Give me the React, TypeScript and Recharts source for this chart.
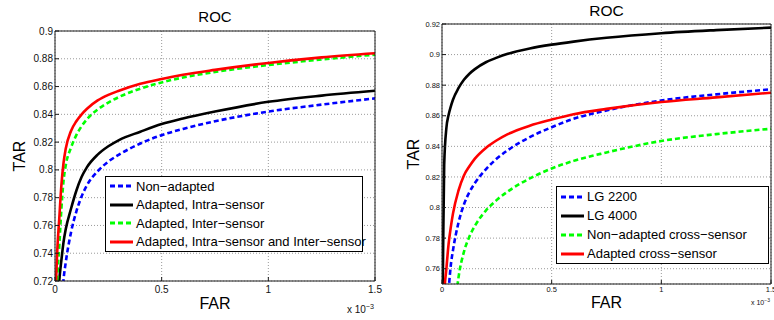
import { LineChart, Line, XAxis, YAxis, CartesianGrid, Legend, Label } from "recharts";

const FONT = '"Liberation Sans", Arial, Helvetica, sans-serif';

// FAR sample points (x 10^-3), shared by both panels
const far = [0, 0.005, 0.01, 0.02, 0.03, 0.04, 0.05, 0.075, 0.1, 0.125, 0.15, 0.2, 0.25, 0.3, 0.4, 0.5, 0.6, 0.75, 1.0, 1.25, 1.5];

// left panel: TAR values
const nonAdapted = [0.62, 0.64, 0.66, 0.68, 0.7, 0.721, 0.733, 0.755, 0.77, 0.781, 0.789, 0.799, 0.806, 0.811, 0.819, 0.825, 0.8295, 0.835, 0.842, 0.847, 0.8515];
const adaptedIntra = [0.66, 0.67, 0.69, 0.72, 0.735, 0.748, 0.757, 0.772, 0.785, 0.795, 0.802, 0.811, 0.817, 0.8215, 0.8275, 0.833, 0.837, 0.842, 0.849, 0.8535, 0.857];
const adaptedInter = [0.68, 0.7, 0.72, 0.745, 0.772, 0.792, 0.803, 0.816, 0.825, 0.8315, 0.8365, 0.8435, 0.8485, 0.8525, 0.8585, 0.863, 0.8665, 0.8705, 0.8755, 0.8795, 0.883];
const adaptedBoth = [0.7, 0.72, 0.74, 0.765, 0.789, 0.805, 0.815, 0.828, 0.835, 0.84, 0.844, 0.85, 0.854, 0.857, 0.862, 0.8655, 0.8685, 0.872, 0.877, 0.881, 0.884];

// right panel: TAR values
const lg2200 = [0.62, 0.66, 0.69, 0.72, 0.745, 0.762, 0.772, 0.79, 0.802, 0.81, 0.816, 0.825, 0.832, 0.8375, 0.846, 0.8525, 0.858, 0.8635, 0.87, 0.874, 0.8773];
const lg4000 = [0.7, 0.77, 0.828, 0.852, 0.8605, 0.866, 0.8705, 0.878, 0.8835, 0.8875, 0.8905, 0.895, 0.898, 0.9005, 0.904, 0.9065, 0.9085, 0.911, 0.914, 0.916, 0.9176];
const nonAdaptedCross = [0.55, 0.57, 0.59, 0.63, 0.67, 0.7, 0.72, 0.754, 0.771, 0.781, 0.788, 0.798, 0.805, 0.8105, 0.819, 0.8255, 0.8305, 0.836, 0.8435, 0.848, 0.8515];
const adaptedCross = [0.68, 0.71, 0.742, 0.76, 0.776, 0.787, 0.796, 0.811, 0.821, 0.827, 0.832, 0.839, 0.844, 0.848, 0.8535, 0.8575, 0.861, 0.8645, 0.869, 0.872, 0.8751];

const xTicks = [0, 0.5, 1, 1.5];
const leftYTicks = [0.72, 0.74, 0.76, 0.78, 0.8, 0.82, 0.84, 0.86, 0.88, 0.9];
const rightYTicks = [0.76, 0.78, 0.8, 0.82, 0.84, 0.86, 0.88, 0.9, 0.92];

type Series = { key: string; name: string; color: string; dashed: boolean };

const leftSeries: Series[] = [
  { key: "nonAdapted", name: "Non−adapted", color: "#0000ff", dashed: true },
  { key: "adaptedIntra", name: "Adapted, Intra−sensor", color: "#000000", dashed: false },
  { key: "adaptedInter", name: "Adapted, Inter−sensor", color: "#00ff00", dashed: true },
  { key: "adaptedBoth", name: "Adapted, Intra−sensor and Inter−sensor", color: "#ff0000", dashed: false },
];

const rightSeries: Series[] = [
  { key: "lg2200", name: "LG 2200", color: "#0000ff", dashed: true },
  { key: "lg4000", name: "LG 4000", color: "#000000", dashed: false },
  { key: "nonAdaptedCross", name: "Non−adapted cross−sensor", color: "#00ff00", dashed: true },
  { key: "adaptedCross", name: "Adapted cross−sensor", color: "#ff0000", dashed: false },
];

const leftData = far.map((f, i) => ({
  far: f,
  nonAdapted: nonAdapted[i],
  adaptedIntra: adaptedIntra[i],
  adaptedInter: adaptedInter[i],
  adaptedBoth: adaptedBoth[i],
}));

const rightData = far.map((f, i) => ({
  far: f,
  lg2200: lg2200[i],
  lg4000: lg4000[i],
  nonAdaptedCross: nonAdaptedCross[i],
  adaptedCross: adaptedCross[i],
}));

const fmtY = (v: number) => String(Number(v.toFixed(2)));

function LegendBox({ series, fontSize, rowHeight, width }: { series: Series[]; fontSize: number; rowHeight: number; width: number }) {
  return (
    <div
      style={{
        boxSizing: "border-box",
        width,
        border: "1px solid #000",
        background: "#fff",
        padding: "0 4px",
        fontFamily: FONT,
        fontSize,
        color: "#000",
      }}
    >
      {series.map((s) => (
        <div key={s.key} style={{ display: "flex", alignItems: "center", height: rowHeight, whiteSpace: "nowrap" }}>
          <svg width={24} height={6} style={{ marginRight: 2, flex: "none" }}>
            <line x1={0} x2={23} y1={3} y2={3} stroke={s.color} strokeWidth={3} strokeDasharray={s.dashed ? "5 3" : undefined} />
          </svg>
          <span>{s.name}</span>
        </div>
      ))}
    </div>
  );
}

type PanelProps = {
  data: any[];
  series: Series[];
  width: number;
  yDomain: [number, number];
  yTicks: number[];
  yAxisWidth: number;
  xAxisHeight: number;
  margin: { top: number; right: number; left: number; bottom: number };
  tickFont: number;
  xTickMargin: number;
  yTickMargin: number;
  titleSize: number;
  titleGap: number;
  farBaseline: number;
  tarBaseline: number;
  scaleSize: number;
  scaleBaseline: number;
  legend: { left: number; top: number; width: number; fontSize: number; rowHeight: number };
};

function RocPanel(p: PanelProps) {
  const axisColor = "#1a1a1a";
  return (
    <LineChart width={p.width} height={320} data={p.data} margin={p.margin}>
      <CartesianGrid stroke="#9a9a9a" strokeDasharray="1 2" />
      <XAxis
        dataKey="far"
        type="number"
        domain={[0, 1.5]}
        ticks={xTicks}
        interval={0}
        allowDataOverflow
        height={p.xAxisHeight}
        tickSize={-4}
        tickMargin={p.xTickMargin}
        stroke={axisColor}
        tick={{ fill: "#111", fontSize: p.tickFont, fontFamily: FONT }}
      >
        <Label
          content={({ viewBox }: any) => (
            <g>
              <text
                x={viewBox.x + viewBox.width / 2}
                y={p.farBaseline}
                textAnchor="middle"
                fontSize={16}
                fontFamily={FONT}
                fill="#000"
              >
                FAR
              </text>
              <text
                x={viewBox.x + viewBox.width - 1}
                y={p.scaleBaseline}
                textAnchor="end"
                fontSize={p.scaleSize}
                fontFamily={FONT}
                fill="#111"
              >
                x 10
                <tspan dy={-p.scaleSize * 0.45} fontSize={p.scaleSize * 0.72}>
                  −3
                </tspan>
              </text>
            </g>
          )}
        />
      </XAxis>
      <XAxis
        xAxisId="top"
        orientation="top"
        dataKey="far"
        type="number"
        domain={[0, 1.5]}
        ticks={xTicks}
        interval={0}
        allowDataOverflow
        height={1}
        tickSize={-4}
        tick={false}
        stroke={axisColor}
      >
        <Label
          content={({ viewBox }: any) => (
            <text
              x={viewBox.x + viewBox.width / 2}
              y={viewBox.y - p.titleGap}
              textAnchor="middle"
              fontSize={p.titleSize}
              fontFamily={FONT}
              fill="#000"
            >
              ROC
            </text>
          )}
        />
      </XAxis>
      <YAxis
        type="number"
        domain={p.yDomain}
        ticks={p.yTicks}
        interval={0}
        allowDataOverflow
        width={p.yAxisWidth}
        tickSize={-4}
        tickMargin={p.yTickMargin}
        tickFormatter={fmtY}
        stroke={axisColor}
        tick={{ fill: "#111", fontSize: p.tickFont, fontFamily: FONT }}
      >
        <Label
          content={({ viewBox }: any) => {
            const cy = viewBox.y + viewBox.height / 2;
            return (
              <text
                x={p.tarBaseline}
                y={cy}
                transform={`rotate(-90, ${p.tarBaseline}, ${cy})`}
                textAnchor="middle"
                fontSize={16}
                fontFamily={FONT}
                fill="#000"
              >
                TAR
              </text>
            );
          }}
        />
      </YAxis>
      <YAxis
        yAxisId="r"
        orientation="right"
        type="number"
        domain={p.yDomain}
        ticks={p.yTicks}
        interval={0}
        allowDataOverflow
        width={1}
        tickSize={-4}
        tick={false}
        stroke={axisColor}
      />
      {p.series.map((s) => (
        <Line
          key={s.key}
          dataKey={s.key}
          name={s.name}
          type="monotone"
          stroke={s.color}
          strokeWidth={2.6}
          strokeDasharray={s.dashed ? "5 3" : undefined}
          dot={false}
          activeDot={false}
          isAnimationActive={false}
        />
      ))}
      <Legend
        layout="vertical"
        align="center"
        verticalAlign="middle"
        wrapperStyle={{ left: p.legend.left, top: p.legend.top, width: p.legend.width }}
        content={() => (
          <LegendBox series={p.series} fontSize={p.legend.fontSize} rowHeight={p.legend.rowHeight} width={p.legend.width} />
        )}
      />
    </LineChart>
  );
}

export default function App() {
  return (
    <div style={{ position: "absolute", left: 0, top: 0, width: 774, height: 320, background: "#fff", display: "flex" }}>
      <RocPanel
        data={leftData}
        series={leftSeries}
        width={388}
        yDomain={[0.72, 0.9]}
        yTicks={leftYTicks}
        yAxisWidth={55}
        xAxisHeight={39}
        margin={{ top: 30, right: 12, left: 0, bottom: 0 }}
        tickFont={10}
        xTickMargin={9}
        yTickMargin={6}
        titleSize={15}
        titleGap={8.5}
        farBaseline={309}
        tarBaseline={25}
        scaleSize={10}
        scaleBaseline={313}
        legend={{ left: 105, top: 176, width: 258, fontSize: 13, rowHeight: 18.5 }}
      />
      <RocPanel
        data={rightData}
        series={rightSeries}
        width={386}
        yDomain={[0.75, 0.92]}
        yTicks={rightYTicks}
        yAxisWidth={54}
        xAxisHeight={36}
        margin={{ top: 23, right: 2, left: 0, bottom: 0 }}
        tickFont={7.5}
        xTickMargin={7}
        yTickMargin={6}
        titleSize={15.5}
        titleGap={7}
        farBaseline={308}
        tarBaseline={31}
        scaleSize={7}
        scaleBaseline={305}
        legend={{ left: 168, top: 186, width: 213, fontSize: 13, rowHeight: 19 }}
      />
    </div>
  );
}
